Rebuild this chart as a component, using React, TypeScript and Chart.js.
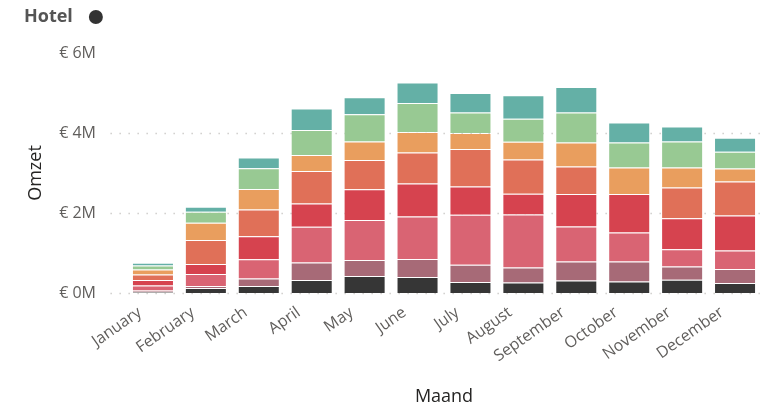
import React, { useEffect, useRef } from "react";
import { Chart, registerables } from "chart.js";

Chart.register(...registerables);

// ---- data (euros) ----
const months = [
  "January", "February", "March", "April", "May", "June",
  "July", "August", "September", "October", "November", "December",
];

const seriesNames = ["Hotel A", "Hotel B", "Hotel C", "Hotel D", "Hotel E", "Hotel F", "Hotel G", "Hotel H"];

const darkValues = [20000, 125000, 175000, 325000, 425000, 400000, 275000, 265000, 315000, 290000, 330000, 250000];
const mauveValues = [40000, 50000, 190000, 440000, 400000, 450000, 430000, 375000, 475000, 500000, 330000, 350000];
const pinkValues = [125000, 300000, 480000, 890000, 1000000, 1065000, 1250000, 1320000, 875000, 725000, 435000, 460000];
const redValues = [140000, 250000, 575000, 585000, 770000, 825000, 710000, 520000, 810000, 960000, 775000, 880000];
const orangeRedValues = [140000, 600000, 670000, 810000, 730000, 775000, 935000, 860000, 690000, null, 765000, 850000];
const orangeValues = [125000, 430000, 510000, 400000, 460000, 510000, 400000, 440000, 600000, 665000, 500000, 320000];
const greenValues = [100000, 275000, 520000, 625000, 685000, 725000, 515000, 575000, 750000, 625000, 650000, 420000];
const tealValues = [65000, 125000, 265000, 540000, 425000, 515000, 485000, 590000, 635000, 500000, 375000, 350000];

const yTickValues = [0, 2000000, 4000000, 6000000];

const seriesValues = [darkValues, mauveValues, pinkValues, redValues, orangeRedValues, orangeValues, greenValues, tealValues];
const seriesColors = ["#363636", "#a76a77", "#d96473", "#d6434f", "#e07058", "#e99e5e", "#98c993", "#64b0a6"];

const FONT = "'Open Sans', 'Noto Sans', sans-serif";

const dottedGrid = {
  id: "dottedGrid",
  beforeDatasetsDraw(chart: any) {
    const { ctx, chartArea } = chart;
    const y = chart.scales.y;
    ctx.save();
    ctx.strokeStyle = "#c8c6c4";
    ctx.lineWidth = 1.3;
    ctx.setLineDash([1.3, 7.7]);
    yTickValues.forEach((v) => {
      if (v >= y.max) return;
      const py = Math.round(y.getPixelForValue(v)) + 0.5;
      ctx.beginPath();
      ctx.moveTo(chartArea.left - 16, py);
      ctx.lineTo(chart.width, py);
      ctx.stroke();
    });
    ctx.restore();
  },
};

const legendTitle = {
  id: "legendTitle",
  afterDraw(chart: any) {
    const { ctx } = chart;
    ctx.save();
    ctx.font = `bold 18px ${FONT}`;
    ctx.fillStyle = "#555555";
    ctx.textBaseline = "middle";
    ctx.textAlign = "left";
    const text = "Hotel";
    ctx.fillText(text, 24, 17);
    const w = ctx.measureText(text).width;
    ctx.beginPath();
    ctx.fillStyle = "#333333";
    ctx.arc(24 + w + 23, 17, 7, 0, Math.PI * 2);
    ctx.fill();
    ctx.restore();
  },
};

export default function App() {
  const ref = useRef<HTMLCanvasElement | null>(null);

  useEffect(() => {
    if (!ref.current) return;
    const chart = new Chart(ref.current, {
      type: "bar",
      data: {
        labels: months,
        datasets: seriesValues.map((vals, i) => ({
          label: seriesNames[i],
          data: vals,
          backgroundColor: seriesColors[i],
          borderColor: "rgba(255,255,255,0.12)",
          borderWidth: 1,
          categoryPercentage: 1,
          barPercentage: 0.794,
        })),
      },
      options: {
        animation: false,
        responsive: false,
        maintainAspectRatio: false,
        layout: { padding: { left: 0, top: 53, right: 3.5, bottom: 0 } },
        plugins: {
          legend: { display: false },
          tooltip: { enabled: false },
          title: { display: false },
        },
        scales: {
          x: {
            stacked: true,
            grid: { display: false, drawTicks: false },
            border: { display: false },
            ticks: {
              color: "#605e5c",
              font: { family: FONT, size: 16 },
              minRotation: 35,
              maxRotation: 35,
              autoSkip: false,
              padding: 10,
              labelOffset: -13,
            },
            title: {
              display: true,
              text: "Maand",
              color: "#252423",
              font: { family: FONT, size: 18 },
              padding: { top: 0, bottom: 1 },
            },
            afterFit(scale: any) {
              scale.height = 116;
            },
          },
          y: {
            stacked: true,
            min: 0,
            max: 6000000,
            grid: { display: false, drawTicks: false },
            border: { display: false },
            afterBuildTicks(scale: any) {
              scale.ticks = yTickValues.map((v) => ({ value: v }));
            },
            ticks: {
              color: "#605e5c",
              font: { family: FONT, size: 16 },
              padding: 30.5,
              callback: (v: any) => `€ ${Number(v) / 1000000}M`,
            },
            title: {
              display: true,
              text: "Omzet",
              color: "#252423",
              font: { family: FONT, size: 18 },
              padding: { top: 25, bottom: 0 },
            },
            afterFit(scale: any) {
              scale.width = 126.5;
            },
          },
        },
      },
      plugins: [dottedGrid, legendTitle],
    });
    return () => chart.destroy();
  }, []);

  return (
    <div style={{ position: "absolute", left: 0, top: 0, width: 765, height: 409, background: "#ffffff" }}>
      <canvas ref={ref} width={765} height={409} style={{ width: 765, height: 409, display: "block" }} />
    </div>
  );
}
